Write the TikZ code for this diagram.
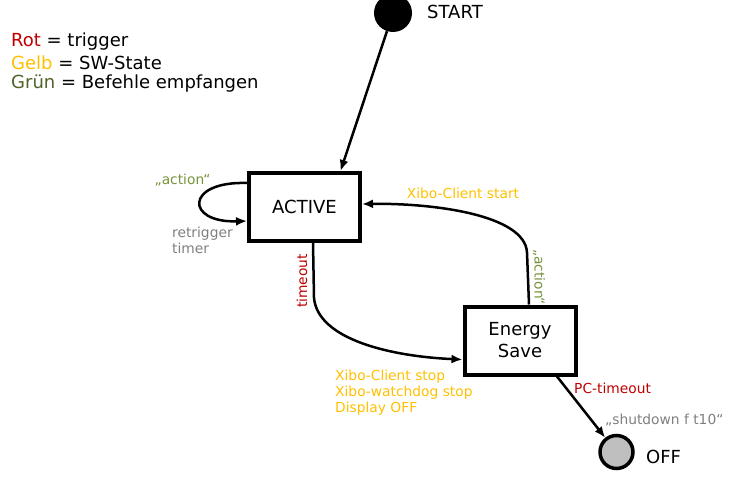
\documentclass[tikz,border=0pt]{standalone}
\usepackage{fontspec}
\setmainfont{DejaVu Sans}
\usetikzlibrary{arrows.meta,calc}

\definecolor{rot}{HTML}{C00000}
\definecolor{gelb}{HTML}{FFC000}
\definecolor{gruen}{HTML}{77933C}
\definecolor{gruendunkel}{HTML}{4F6228}
\definecolor{grau}{HTML}{7F7F7F}

\begin{document}
\begin{tikzpicture}[x=1pt,y=-1pt,
        state/.style={draw,line width=4pt,minimum width=111pt,minimum height=68pt,align=center,font=\fontsize{18}{22}\selectfont},
        big/.style={font=\fontsize{18}{21}\selectfont},
        small/.style={font=\fontsize{13.8}{16}\selectfont,inner sep=0pt},
        arr/.style={-{Latex[length=11pt,width=9pt]},line width=2.5pt}]
    \useasboundingbox (0,0) rectangle (735,492);

    % states
    \node [circle,fill=black,minimum size=38pt,inner sep=0pt] (start) at (393,13) {};
    \node [state] (active) at (304.5,207) {ACTIVE};
    \node [state] (save) at (520,340.5) {Energy\\Save};
    \node [circle,draw,line width=3.5pt,fill=gray!50,minimum size=33pt,inner sep=0pt] (off) at (616.5,452) {};

    \node [big,anchor=west,inner sep=0pt] (startlbl) at (427,12) {START};
    \node [big,anchor=west,inner sep=0pt] (offlbl) at (646,457) {OFF};

    % legend
    \node [big,anchor=west,inner sep=0pt] (rot) at (11,42) {\textcolor{rot}{Rot} = trigger};
    \node [big,anchor=west,inner sep=0pt] (gelb) at (11,63) {\textcolor{gelb}{Gelb} = SW-State};
    \node [big,anchor=west,inner sep=0pt] (gruen) at (11,84) {\textcolor{gruendunkel}{Grün} = Befehle empfangen};

    % transitions
    \draw [arr] (start) -- (active.45);
    \draw [arr] ($(active.west)+(0,-24)$) .. controls +(-62,-2) and +(-62,2) .. ($(active.west)+(0,14)$);
    \draw [arr] ($(save.north)+(9,0)$) -- ++(-2,-52)
                .. controls +(-2,-38) and +(70,-1) .. ($(active.east)+(0,-3)$);
    \draw [arr] ($(active.south)+(8.5,0)$) -- ++(1,55)
                .. controls +(4,42) and +(-70,-3) .. ($(save.west)+(0,19)$);
    \draw [arr] ($(save.south)+(37,0)$) -- (off);

    % labels
    \node [small,text=gruen] (act1) at (182.5,180) {„action“};
    \node [small,text=grau,anchor=west,align=left] (retrig) at (172,240) {retrigger\\timer};
    \node [small,text=gelb] (start2) at (463,193) {Xibo-Client start};
    \node [small,text=gruen,rotate=-90] (act2) at (539,277) {„action“};
    \node [small,text=rot,rotate=90] (tout) at (302,281) {timeout};
    \node [small,text=gelb,anchor=west,align=left] (stop) at (335,393) {Xibo-Client stop\\Xibo-watchdog stop\\Display OFF};
    \node [small,text=rot,anchor=west] (pctout) at (574,388) {PC-timeout};
    \node [small,text=grau,anchor=west] (shut) at (605,420) {„shutdown f t10“};
\end{tikzpicture}
\end{document}
